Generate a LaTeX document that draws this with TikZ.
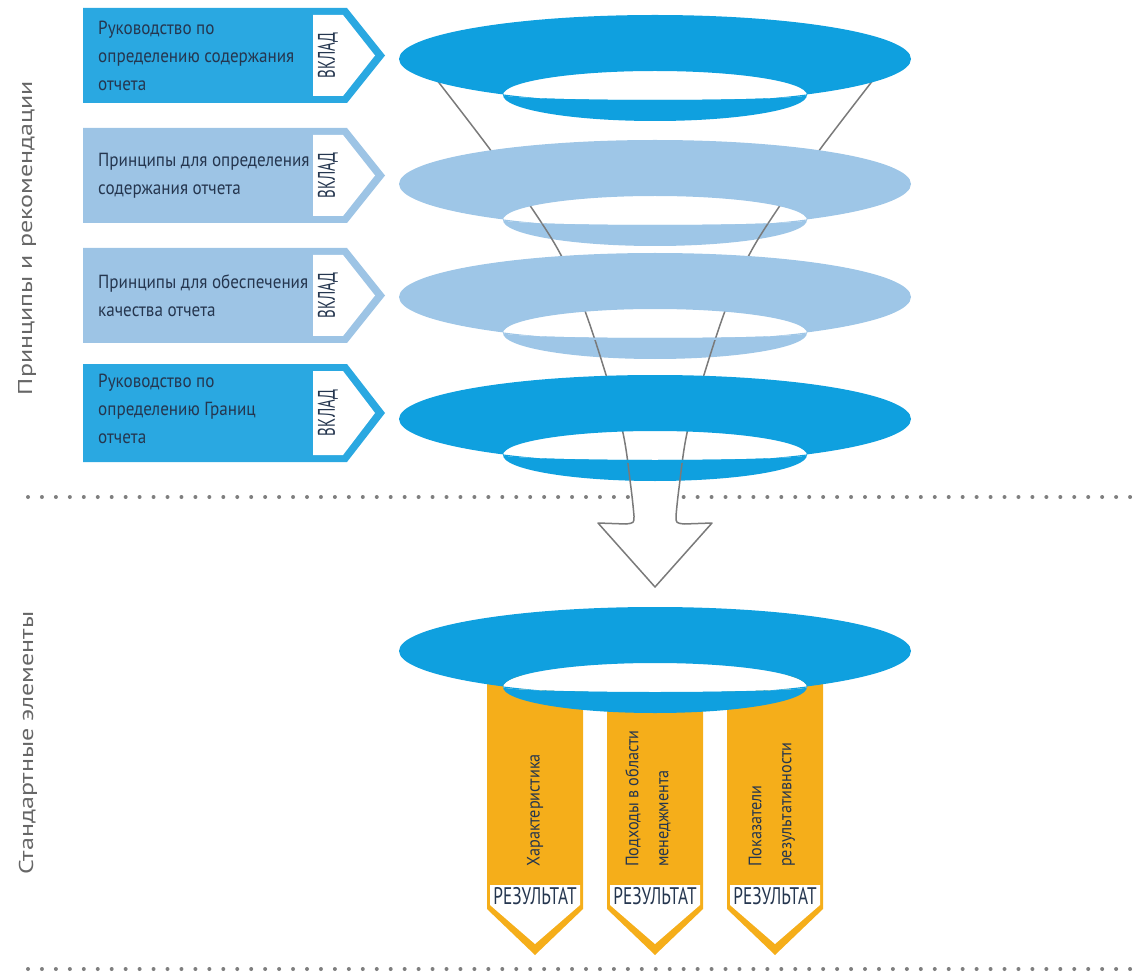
\documentclass[tikz,border=0pt]{standalone}
\usepackage{fontspec}
\setmainfont{PT Sans}
\newfontfamily\boxfont[FakeStretch=0.9]{PT Sans}
\newfontfamily\tagfont[FakeStretch=0.62]{PT Sans}
\newfontfamily\resfont[FakeStretch=0.72]{PT Sans}
\newfontfamily\titlefont[FakeStretch=1.3]{PT Sans}
\definecolor{dkblue}{HTML}{0FA0DF}
\definecolor{ltblue}{HTML}{9EC6E7}
\definecolor{boxdk}{HTML}{2AA8E1}
\definecolor{boxlt}{HTML}{9DC4E5}
\definecolor{barorange}{HTML}{F5AE1A}
\definecolor{txtnavy}{HTML}{25364F}
\definecolor{linegray}{HTML}{7A7A7A}
\definecolor{dotgray}{HTML}{7F7F7F}
\definecolor{titlegray}{HTML}{666666}
\begin{document}
\begin{tikzpicture}[x=1pt,y=-1pt,
  boxtext/.style={font={\boxfont\fontsize{19}{28}\selectfont},text=txtnavy,inner sep=0pt,align=left,anchor=west},
  bartext/.style={font={\boxfont\fontsize{18}{30}\selectfont},text=txtnavy,inner sep=0pt,align=left,anchor=west,rotate=90},
  tagtext/.style={font={\tagfont\fontsize{24}{24}\selectfont},text=txtnavy,inner sep=0pt},
  restext/.style={font={\resfont\fontsize{24}{24}\selectfont},text=txtnavy,inner sep=0pt},
  titletext/.style={font={\titlefont\fontsize{20}{24}\selectfont},text=titlegray,inner sep=0pt,rotate=90},
  dotmark/.style={fill=dotgray},
  funnel/.style={linegray,line width=1.5pt,line join=round}]
\useasboundingbox (0,0) rectangle (1138,976);

% result bars (behind bottom ring)
\foreach \x/\nm in {535/ra,655/rb,775/rc}{
  \fill[barorange] (\x-48,675) -- (\x+48,675) -- (\x+48,909) -- (\x,955) -- (\x-48,909) -- cycle;
  \fill[white] (\x-45,885) -- (\x+45,885) -- (\x+45,905) -- (\x,944) -- (\x-45,905) -- cycle;
  \node[restext] (res\nm) at (\x,896) {РЕЗУЛЬТАТ};
}
\node[bartext] (bara) at (535,867) {Характеристика};
\node[bartext] (barb) at (648,867) {Подходы в области\\менеджмента};
\node[bartext] (barc) at (772,867) {Показатели\\результативности};

% dotted separators
\foreach \i in {0,...,79}{
  \fill[dotmark] (28+13.95*\i,497) circle[radius=2pt];
  \fill[dotmark] (28+13.95*\i,969) circle[radius=2pt];
}

% lips of rings
\foreach \cy/\col in {59/dkblue,184/ltblue,297/ltblue,419/dkblue,651/dkblue}{
  \fill[\col] (503,\cy+36) arc[start angle=180,end angle=360,x radius=152pt,y radius=26pt]
     arc[start angle=0,end angle=-180,x radius=152pt,y radius=5pt] -- cycle;
}
% hole of the bottom ring hides the bars
\fill[white] (503,687) arc[start angle=180,end angle=0,x radius=152pt,y radius=24pt]
    arc[start angle=0,end angle=-180,x radius=152pt,y radius=5pt] -- cycle;

% arrow fill and funnel outline
\fill[white] (631,482) -- (634,516) -- (634,522) -- (598,523) -- (655,587) -- (712,523) -- (676,522) -- (676,516) -- (679,482) -- cycle;
\draw[funnel] plot[smooth,tension=0.6] coordinates {(433,75) (489,148) (531,207) (562,257) (585,311) (607,378) (623,433) (631,488) (634,516)}
  .. controls (634,523) .. (626,524) -- (598,523) -- (655,587) -- (712,523) -- (684,524)
  .. controls (676,523) .. (676,516)
  plot[smooth,tension=0.6] coordinates {(676,516) (679,488) (687,433) (703,378) (725,311) (748,257) (779,207) (821,148) (877,75)};

% ring bodies
\foreach \cy/\col in {59/dkblue,184/ltblue,297/ltblue,419/dkblue,651/dkblue}{
  \fill[\col,even odd rule] (655,\cy) ellipse[x radius=256pt,y radius=44pt]
    (503,\cy+36) arc[start angle=180,end angle=0,x radius=152pt,y radius=24pt]
    arc[start angle=0,end angle=-180,x radius=152pt,y radius=5pt] -- cycle;
}

% input boxes
\foreach \t/\b/\col/\nm in {8/103/boxdk/a,128/223/boxlt/b,248/343/boxlt/c,364/462/boxdk/d}{
  \pgfmathsetmacro\m{(\t+\b)/2}
  \fill[\col] (83,\t) -- (347,\t) -- (385,\m) -- (347,\b) -- (83,\b) -- cycle;
  \fill[white] (313,\t+7) -- (343,\t+7) -- (375,\m) -- (343,\b-7) -- (313,\b-7) -- cycle;
  \node[tagtext,rotate=90] (in\nm) at (328,\m) {ВКЛАД};
}
\node[boxtext] (ta) at (98,55.5) {Руководство по\\определению содержания\\отчета};
\node[boxtext] (tb) at (98,175.5) {Принципы для определения\\содержания отчета};
\node[boxtext] (tc) at (98,295.5) {Принципы для обеспечения\\качества отчета};
\node[boxtext] (td) at (98,409) {Руководство по\\определению Границ\\отчета};

% side titles
\node[titletext] (ttop) at (27,238) {Принципы и рекомендации};
\node[titletext] (tbot) at (28,743) {Стандартные элементы};
\end{tikzpicture}
\end{document}
